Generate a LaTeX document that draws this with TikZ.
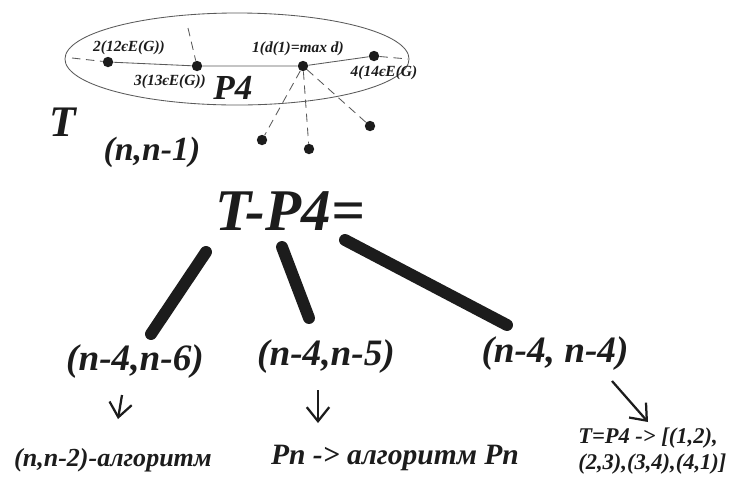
\documentclass[tikz,border=0pt]{standalone}
\usepackage{fontspec}
\setmainfont{Liberation Serif}
\usetikzlibrary{arrows.meta}
\definecolor{ink}{HTML}{1C1C1C}
\definecolor{edgegray}{HTML}{5A5A5A}
\newcommand{\fsz}[1]{\fontsize{#1}{1.15\dimexpr#1pt\relax}\selectfont}

\begin{document}
\begin{tikzpicture}[x=0.025cm,y=-0.025cm,>={Straight Barb[length=10pt,width=16pt]},
  every node/.style={text=ink,inner sep=0pt},
  lbl/.style={font=\bfseries\itshape\fsz{#1}},
  vtx/.style={circle,fill=ink,minimum size=0.26cm},
  edge/.style={edgegray,line width=0.6pt},
  stub/.style={edgegray,line width=0.6pt,dash pattern=on 6pt off 4pt},
  branch/.style={ink,line width=8.5pt,line cap=round},
  small/.style={ink,line width=1.6pt,->}]
  \useasboundingbox (0,0) rectangle (741,476);
  \fill[white] (0,0) rectangle (741,476);
  % the path P4 inside the tree T
  \draw[edgegray,line width=0.6pt] (237,59) ellipse (4.3cm and 1.15cm);
  \foreach \v/\x/\y in {2/108/62, 3/197/66, 1/303/66, 4/374/56}
    \node[vtx] (v\v) at (\x,\y) {};
  \foreach \w/\x/\y in {a/262/140, b/309/149, c/370/126}
    \node[vtx] (w\w) at (\x,\y) {};
  \coordinate (sl) at (72,58);
  \coordinate (su) at (188,28);
  \coordinate (sr) at (408,59);
  \draw[edge] (v2) -- (v3) -- (v1) -- (v4);
  \draw[stub] (sl) -- (v2);
  \draw[stub] (su) -- (v3);
  \draw[stub] (v4) -- (sr);
  \foreach \w in {a,b,c}
    \draw[stub] (v1) -- (w\w);
  \node[lbl=11] (l2) at (129,48) {2(12єE(G))};
  \node[lbl=11] (l1) at (298,49) {1(d(1)=max d)};
  \node[lbl=11] (l3) at (170,82) {3(13єE(G))};
  \node[lbl=11] (l4) at (384,73) {4(14єE(G)};
  \node[lbl=25] (p4) at (233,88) {P4};
  \node[lbl=31] (t) at (63,122) {T};
  \node[lbl=24] (tn) at (152,152) {(n,n-1)};
  % removing P4
  \node[lbl=42] (tp4) at (290,211) {T-P4=};
  \foreach \i/\sx/\sy/\ex/\ey in {1/206/252/151/334, 2/282/247/309/318, 3/345/240/507/325} {
    \coordinate (s\i) at (\sx,\sy);
    \coordinate (e\i) at (\ex,\ey);
    \draw[branch] (s\i) -- (e\i);
  }
  \node[lbl=26.5] (c1) at (135,362) {(n-4,n-6)};
  \node[lbl=26.5] (c2) at (326,357) {(n-4,n-5)};
  \node[lbl=26.5] (c3) at (555,354) {(n-4, n-4)};
  % what follows in each case
  \foreach \i/\sx/\sy/\ex/\ey in {1/122/395/118/419, 2/318/390/318/423, 3/612/381/648/422} {
    \coordinate (a\i) at (\sx,\sy);
    \coordinate (b\i) at (\ex,\ey);
    \draw[small] (a\i) -- (b\i);
  }
  \node[lbl=18.5] (r1) at (113,460) {(n,n-2)-алгоритм};
  \node[lbl=21] (r2) at (395,458) {Pn -> алгоритм Pn};
  \node[lbl=16,anchor=west,align=left] (r3) at (578,451) {T=P4 -> [(1,2),\\(2,3),(3,4),(4,1)]};
\end{tikzpicture}
\end{document}
